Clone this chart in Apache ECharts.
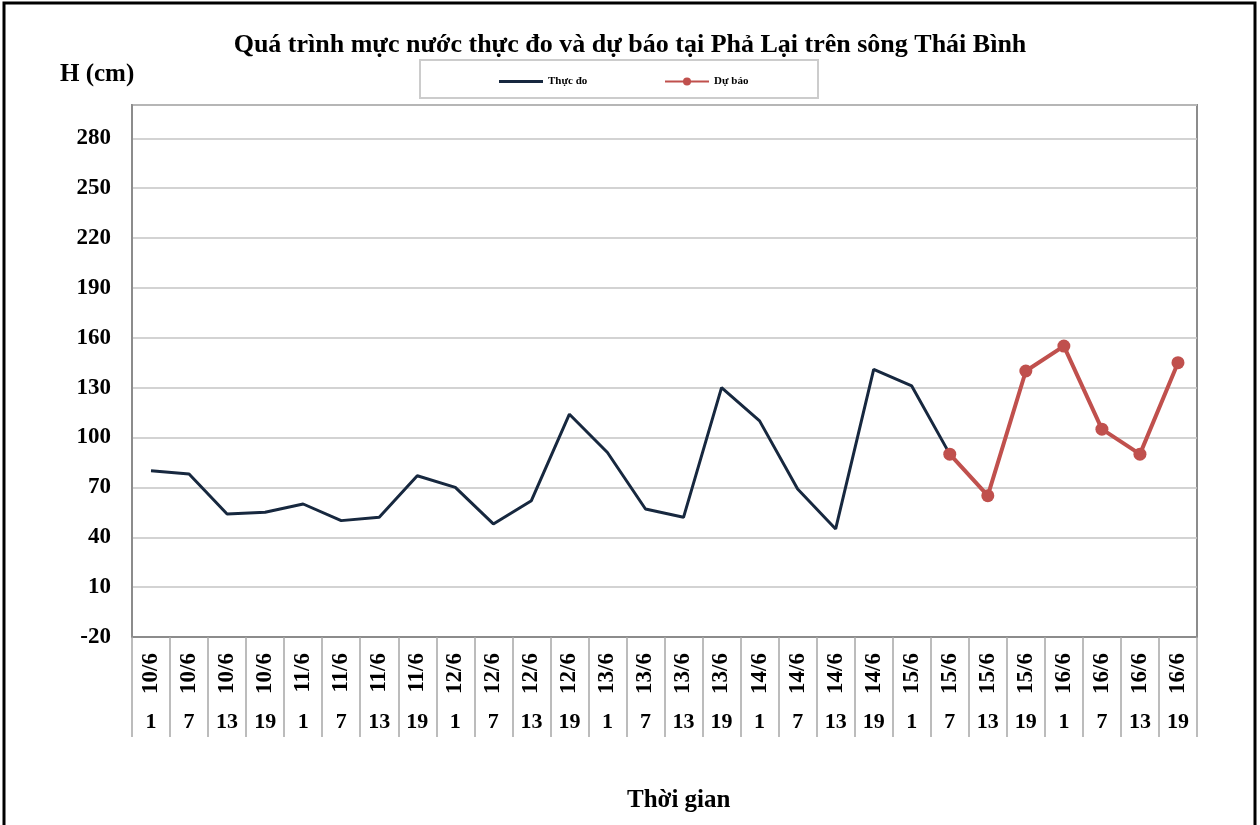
<!DOCTYPE html>
<html>
<head>
<meta charset="utf-8">
<script src="https://cdn.jsdelivr.net/npm/echarts@6/dist/echarts.min.js"></script>
<style>
html,body{margin:0;padding:0;background:#fff;}
#chart{width:1260px;height:825px;}
</style>
</head>
<body>
<div id="chart"></div>
<script>
const dates = ["10/6","10/6","10/6","10/6","11/6","11/6","11/6","11/6","12/6","12/6","12/6","12/6","13/6","13/6","13/6","13/6","14/6","14/6","14/6","14/6","15/6","15/6","15/6","15/6","16/6","16/6","16/6","16/6"];
const hours = ["1","7","13","19","1","7","13","19","1","7","13","19","1","7","13","19","1","7","13","19","1","7","13","19","1","7","13","19"];
const observed = [80,78,54,55,60,50,52,77,70,48,62,114,91,57,52,130,110,69,45,141,131,90,null,null,null,null,null,null];
const forecast = [null,null,null,null,null,null,null,null,null,null,null,null,null,null,null,null,null,null,null,null,null,90,65,140,155,105,90,145];
const yTicks = {min:-20, max:300, interval:30};

const FONT = '"Liberation Serif", "Times New Roman", serif';
const chart = echarts.init(document.getElementById('chart'));
chart.setOption({
  animation:false,
  backgroundColor:'#fff',
  title:{
    text:'Quá trình mực nước thực đo và dự báo tại Phả Lại trên sông Thái Bình',
    left:'center', top:27,
    textStyle:{fontFamily:FONT,fontWeight:'bold',fontSize:26,color:'#000'}
  },
  graphic:[
    {type:'rect',shape:{x:4,y:3,width:1251,height:900},style:{fill:'none',stroke:'#000',lineWidth:3},silent:true},
    {type:'rect',shape:{x:420,y:60,width:398,height:38},style:{fill:'none',stroke:'#cccccc',lineWidth:2},silent:true},
    {type:'text',left:60,top:62,style:{text:'H (cm)',font:'bold 25px '+FONT,fill:'#000'}},
    {type:'text',left:627,top:788,style:{text:'Thời gian',font:'bold 25px '+FONT,fill:'#000'}}
  ],
  legend:[
    {left:494, top:71, itemWidth:44, itemHeight:3, padding:5,
     textStyle:{fontFamily:FONT,fontWeight:'bold',fontSize:11,color:'#000'},
     data:[{name:'Thực đo',icon:'rect'}]},
    {left:659, top:71, itemWidth:44, itemHeight:10, padding:5,
     textStyle:{fontFamily:FONT,fontWeight:'bold',fontSize:11,color:'#000'},
     data:['Dự báo']}
  ],
  grid:{left:132,right:63,top:105,bottom:188,show:true,borderColor:'#8c8c8c',borderWidth:2,backgroundColor:'#fff'},
  xAxis:[
    {type:'category',data:dates,boundaryGap:true,position:'bottom',
     axisLine:{show:true,onZero:false,lineStyle:{color:'#8c8c8c',width:2}},
     axisTick:{show:true,interval:0,length:100,lineStyle:{color:'#a6a6a6',width:1.5}},
     axisLabel:{interval:0,rotate:90,margin:16,fontFamily:FONT,fontWeight:'bold',fontSize:23,color:'#000'},
     splitLine:{show:false}},
    {type:'category',data:hours,boundaryGap:true,position:'bottom',
     axisLine:{show:false,onZero:false},axisTick:{show:false},
     axisLabel:{interval:0,margin:74,fontFamily:FONT,fontWeight:'bold',fontSize:22,color:'#000'},
     splitLine:{show:false}}
  ],
  yAxis:{
    type:'value',min:yTicks.min,max:yTicks.max,interval:yTicks.interval,
    axisLine:{show:true,lineStyle:{color:'#8c8c8c',width:2}},
    axisTick:{show:false},
    axisLabel:{margin:21,showMaxLabel:false,fontFamily:FONT,fontWeight:'bold',fontSize:23,color:'#000',
      formatter:function(v){return v>280?'':v;}},
    splitLine:{show:true,lineStyle:{color:'#c4c4c4',width:1.5}}
  },
  series:[
    {name:'Thực đo',type:'line',xAxisIndex:0,data:observed,symbol:'none',
     lineStyle:{color:'#17283f',width:3},itemStyle:{color:'#17283f'}},
    {name:'Dự báo',type:'line',xAxisIndex:0,data:forecast,symbol:'circle',symbolSize:13,
     lineStyle:{color:'#c0504d',width:4},itemStyle:{color:'#c0504d'}}
  ]
});
</script>
</body>
</html>
